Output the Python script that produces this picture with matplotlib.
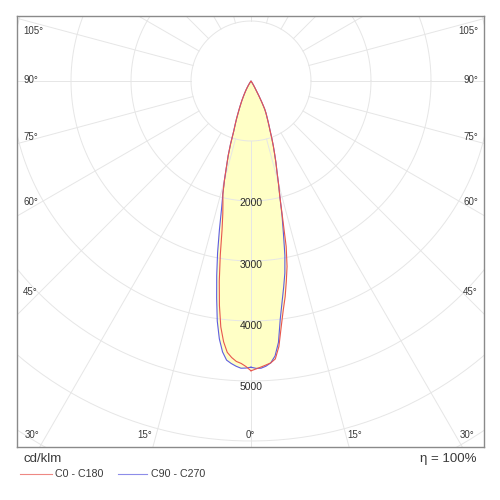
import numpy as np
import matplotlib.pyplot as plt
from matplotlib.lines import Line2D

plt.switch_backend("Agg")
plt.rcParams["font.family"] = ["Liberation Sans", "DejaVu Sans"]

# 光强 cd/klm, 每 1° 一个值 (0° = 向下)
ANGLES = list(range(0, 37))

C0 = [4830, 4800, 4770, 4740, 4710, 4650, 4450, 4130, 3860, 3640,
      3390, 3150, 2820, 2340, 1990, 1770, 1570, 1420, 1270, 1140,
      1010, 890, 800, 720, 650, 590, 520, 400, 280, 172,
      120, 80, 50, 25, 10, 0, 0]
C180 = [4830, 4760, 4710, 4680, 4620, 4540, 4370, 4130, 3780, 3380,
        2950, 2530, 2260, 2080, 1940, 1710, 1480, 1300, 1100, 885,
        770, 670, 570, 490, 420, 360, 300, 250, 205, 170,
        130, 95, 65, 40, 20, 5, 0]
C90 = [4770, 4790, 4790, 4760, 4710, 4600, 4380, 4000, 3720, 3480,
       3250, 2960, 2600, 2300, 1990, 1770, 1570, 1420, 1270, 1140,
       1010, 890, 800, 720, 650, 590, 520, 400, 280, 172,
       120, 80, 50, 25, 10, 0, 0]
C270 = [4770, 4785, 4790, 4760, 4720, 4670, 4540, 4330, 4040, 3660,
        3290, 2920, 2530, 2180, 1940, 1710, 1480, 1300, 1100, 885,
        770, 670, 570, 490, 420, 360, 300, 250, 205, 170,
        130, 95, 65, 40, 20, 5, 0]

RINGS = [1000, 2000, 3000, 4000, 5000, 6000, 7000]
RING_LABELS = [2000, 3000, 4000, 5000]
SIDE_LABELS = ["105°", "90°", "75°", "60°", "45°"]
BOTTOM_LABELS = ["30°", "15°", "0°", "15°", "30°"]
SERIES = ["C0 - C180", "C90 - C270"]
COLORS = ["#e8564e", "#5d5de0"]

# 布局 (像素, 500x500)
CX, CY, SCALE = 251, 81, 60.0  # 中心, px / 1000 cd
SIDE_Y = [31, 80, 137, 202, 292]
BOTTOM_X = [32, 145, 250, 355, 467]
TXT = "#3a3a3a"


def px2data(px, py):
    return (px - CX) / SCALE * 1000, (CY - py) / SCALE * 1000


def curve(right, left):
    a = np.radians(ANGLES)
    xr = np.array(right) * np.sin(a)
    yr = -np.array(right) * np.cos(a)
    xl = -np.array(left) * np.sin(a)
    yl = -np.array(left) * np.cos(a)
    return np.r_[xr, xl[::-1]], np.r_[yr, yl[::-1]]


fig = plt.figure(figsize=(5, 5), dpi=100)
ax = fig.add_axes([17 / 500, 53 / 500, 467 / 500, 431 / 500])
x0, y1 = px2data(17, 16)
x1, y0 = px2data(484, 447)
ax.set_xlim(x0, x1)
ax.set_ylim(y0, y1)
ax.set_xticks([])
ax.set_yticks([])
for s in ax.spines.values():
    s.set_color("#8a8a8a")
    s.set_linewidth(1.0)

red = curve(C0, C180)
blue = curve(C90, C270)
ax.fill(*red, color="#ffffc6", lw=0, zorder=1)
ax.fill(*blue, color="#ffffc6", lw=0, zorder=1)

# 网格
grid_c = "#e6e6e6"
t = np.linspace(0, 2 * np.pi, 400)
for r in RINGS:
    ax.plot(r * np.cos(t), r * np.sin(t), color=grid_c, lw=0.7, zorder=2)
for a in np.arange(0, 360, 15):
    ar = np.radians(a)
    ax.plot([1000 * np.sin(ar), 9000 * np.sin(ar)],
            [-1000 * np.cos(ar), -9000 * np.cos(ar)],
            color=grid_c, lw=0.7, zorder=2)

ax.plot(*blue, color=COLORS[1], lw=0.8, zorder=3)
ax.plot(*red, color=COLORS[0], lw=0.8, zorder=3)

for v in RING_LABELS:
    ax.text(0, -v * 1.02, str(v), ha="center", va="center",
            fontsize=7.5, color="#2a2a2a", zorder=4)

for lab, py in zip(SIDE_LABELS, SIDE_Y):
    ax.text(*px2data(23, py), lab, ha="left", va="center", fontsize=7, color=TXT)
    ax.text(*px2data(478, py), lab, ha="right", va="center", fontsize=7, color=TXT)
for lab, px in zip(BOTTOM_LABELS, BOTTOM_X):
    ax.text(*px2data(px, 435), lab, ha="center", va="center", fontsize=7, color=TXT)

fig.text(23 / 500, 1 - 459 / 500, "cd/klm", ha="left", va="center", fontsize=9.5, color=TXT)
fig.text(476 / 500, 1 - 459 / 500, "η = 100%", ha="right", va="center", fontsize=9.5, color=TXT)

leg_x = [(20, 52, 55), (118, 147, 151)]
for (a, b, tx), name, c in zip(leg_x, SERIES, COLORS):
    fig.add_artist(Line2D([a / 500, b / 500], [1 - 474 / 500] * 2, color=c, lw=0.8, alpha=0.7,
                          transform=fig.transFigure))
    fig.text(tx / 500, 1 - 474 / 500, name, ha="left", va="center", fontsize=7.7, color=TXT)

fig.savefig("out.png", dpi=100)
